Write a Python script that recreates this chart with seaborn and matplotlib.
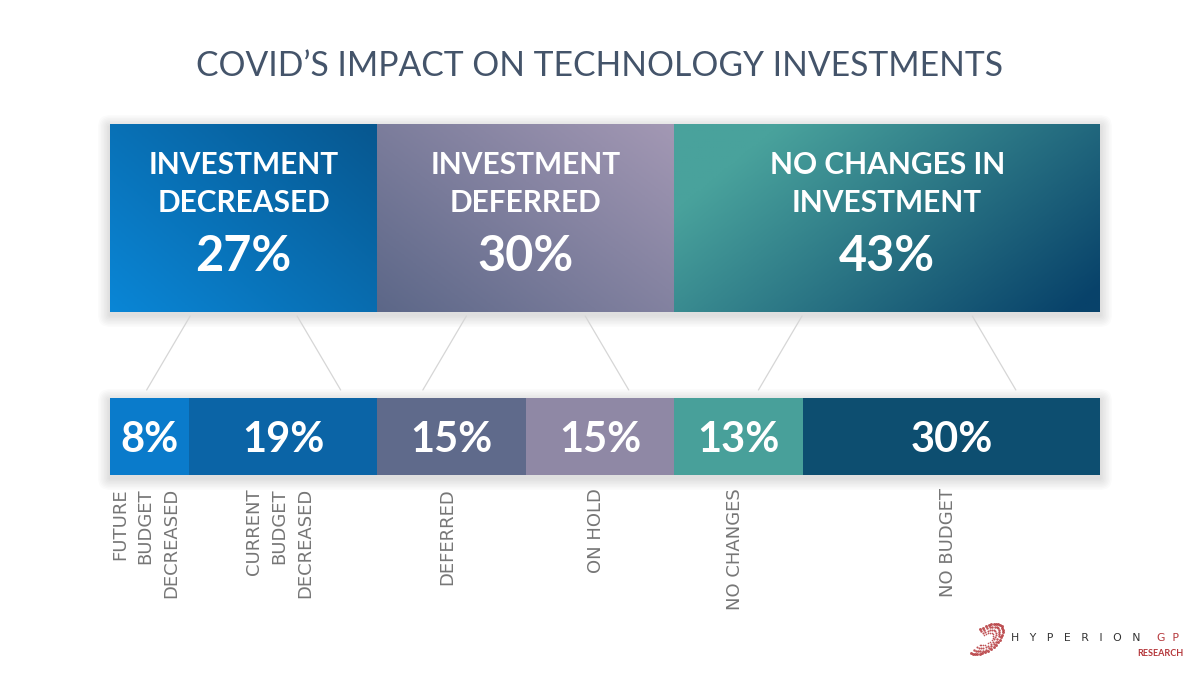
import numpy as np
import pandas as pd
import seaborn as sns
import matplotlib.pyplot as plt
from matplotlib.colors import LinearSegmentedColormap
from matplotlib.patches import FancyBboxPatch

# data
title = "COVID’S IMPACT ON TECHNOLOGY INVESTMENTS"

group_names = ["INVESTMENT\nDECREASED", "INVESTMENT\nDEFERRED", "NO CHANGES IN\nINVESTMENT"]
group_values = [27, 30, 43]
# gradient start / end colours for each big block
group_grad = [("#0a86d6", "#07578f"), ("#5c6788", "#a398b4"), ("#49a29c", "#08426a")]

sub_names = ["FUTURE\nBUDGET\nDECREASED", "CURRENT\nBUDGET\nDECREASED", "DEFERRED",
             "ON HOLD", "NO CHANGES", "NO BUDGET"]
sub_values = [8, 19, 15, 15, 13, 30]
sub_colors = ["#0a7bcb", "#0b64a6", "#5f6a8b", "#8f88a5", "#48a09a", "#0d4e70"]

sns.set_theme(style="white")
plt.rcParams['font.family'] = ['Lato', 'DejaVu Sans']

fig = plt.figure(figsize=(12, 6.75), dpi=100)
W, H = 1200, 675

# background axes in pixel coords (title, shadows, logo)
ax_bg = fig.add_axes([0, 0, 1, 1])
ax_bg.set_xlim(0, W)
ax_bg.set_ylim(H, 0)
ax_bg.axis('off')
ax_bg.set_zorder(-1)

left, width = 110 / W, 990 / W
ax_top = fig.add_axes([left, 1 - 312 / H, width, 188 / H])
ax_bot = fig.add_axes([left, 1 - 475 / H, width, 77 / H])


def stacked(ax, values, colors):
    df = pd.DataFrame({"value": values, "end": np.cumsum(values), "row": "all"})
    for i in reversed(range(len(df))):
        sns.barplot(data=df.iloc[[i]], x="end", y="row", orient="h", color=colors[i],
                    saturation=1, width=1, ax=ax, linewidth=0)
    ax.set_xlim(0, 100)
    ax.set_ylim(0.5, -0.5)
    ax.axis('off')
    return df["end"].values - df["value"].values, df["end"].values


# top bar with gradients
g_start, g_end = stacked(ax_top, group_values, [c[1] for c in group_grad])
u = np.linspace(0, 1, 200)[None, :]
v = np.linspace(0, 1, 100)[:, None]
for i, (s, e) in enumerate(zip(g_start, g_end)):
    if i < 2:
        t = 0.55 * u + 0.45 * v
    else:
        t = np.clip(1.25 * (0.65 * u + 0.35 * (1 - v)) - 0.2, 0, 1)
    cmap = LinearSegmentedColormap.from_list("g%d" % i, list(group_grad[i]))
    ax_top.imshow(t, cmap=cmap, vmin=0, vmax=1, extent=(s, e, 0.5, -0.5),
                  origin='lower', aspect='auto', zorder=3)
    c = (s + e) / 2
    ax_top.text(c, -0.18, group_names[i], ha='center', va='center', color='white',
                fontsize=21.5, fontweight='bold', linespacing=1.42, zorder=4)
    ax_top.text(c, 0.205, f"{group_values[i]}%", ha='center', va='center', color='white',
                fontsize=35, fontweight='bold', zorder=4)
ax_top.set_xlim(0, 100)
ax_top.set_ylim(0.5, -0.5)

# bottom bar
s_start, s_end = stacked(ax_bot, sub_values, sub_colors)
for s, e, val in zip(s_start, s_end, sub_values):
    ax_bot.text((s + e) / 2, 0.05, f"{val}%", ha='center', va='center', color='white',
                fontsize=30, fontweight='bold', zorder=4)

# soft shadows behind the bars
for ax in (ax_top, ax_bot):
    p = ax.get_position()
    x0, x1 = p.x0 * W, p.x1 * W
    y0, y1 = (1 - p.y1) * H, (1 - p.y0) * H
    for k in range(8):
        pad = 1.5 * (k + 1)
        ax_bg.add_patch(FancyBboxPatch((x0 - pad, y0 - pad + 3), x1 - x0 + 2 * pad,
                                       y1 - y0 + 2 * pad, boxstyle="round,pad=0,rounding_size=%g" % pad,
                                       fc='#000000', ec='none', alpha=0.014))

# overlay for connectors and category labels (x in percent, y in px)
ax_ov = fig.add_axes([left, 0, width, 1])
ax_ov.set_xlim(0, 100)
ax_ov.set_ylim(H, 0)
ax_ov.axis('off')
for s, e in zip(g_start, g_end):
    for frac, shift in [(0.3, -4.4), (0.7, 4.4)]:
        xt = s + frac * (e - s)
        ax_ov.plot([xt, xt + shift], [316, 390], color='#d6d6d6', lw=0.9)

for s, e, name in zip(s_start, s_end, sub_names):
    ax_ov.text((s + e) / 2 - 0.4, 488, name, rotation=90, ha='center', va='top',
               multialignment='right', color='#767676', fontsize=13,
               family=['DejaVu Sans'], linespacing=1.55)

# title
ax_bg.text(W / 2, 66, title, ha='center', va='center', fontsize=24.2,
           color='#44546a', fontweight='normal')

# logo
for r, sz in [(1.0, 4.5), (0.8, 3.2), (0.6, 2.2), (0.42, 1.4)]:
    th = np.linspace(np.radians(-175), np.radians(85), int(22 * r) + 6)
    ex, ey = 20 * r * np.cos(th), 11 * r * np.sin(th)
    rot = np.radians(40)
    xs = 986 + ex * np.cos(rot) - ey * np.sin(rot)
    ys = 639 - (ex * np.sin(rot) + ey * np.cos(rot))
    ax_bg.scatter(xs, ys, s=sz, color='#b5373b', lw=0, alpha=0.85)
ax_bg.text(1011, 638, "H   Y   P   E   R   I   O   N", ha='left', va='center', fontsize=7.8,
           color='#333333', family=['DejaVu Sans'])
ax_bg.text(1157, 638, "G  P", ha='left', va='center', fontsize=7.8,
           color='#b5373b', family=['DejaVu Sans'])
ax_bg.text(1184, 653, "RESEARCH", ha='right', va='center', fontsize=6.5,
           color='#b5373b', fontweight='bold')

fig.savefig("out.png", dpi=100, facecolor='white')
